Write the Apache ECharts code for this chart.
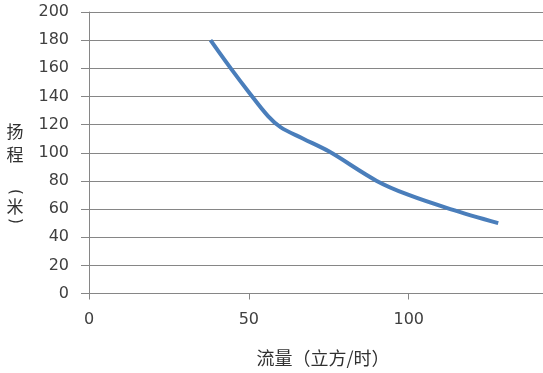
<!DOCTYPE html>
<html><head><meta charset="utf-8">
<script src="https://cdn.jsdelivr.net/npm/echarts@6/dist/echarts.min.js"></script>
<style>html,body{margin:0;padding:0;background:#fff}#c{width:543px;height:373px}</style>
</head><body><div id="c"></div>
<script>
const flowX = [38, 44, 50, 56, 60, 67, 75, 90, 100, 113, 128];
const headY = [180, 161, 143, 126, 118, 110, 101, 80, 70, 60, 50];
const xTicks = [0, 50, 100];
const yTitleChars = ['扬', '程', '(', '米', ')'];
const xTitle = '流量（立方/时）';

const chart = echarts.init(document.getElementById('c'));
const labelFont = {color: '#404040', fontSize: 16, fontFamily: 'DejaVu Sans'};
const yPos = [131.5, 154.5, 192, 206.5, 221];
const rotated = [false, false, true, false, true];
chart.setOption({
  animation: false,
  grid: {left: 89, right: 0, top: 12, bottom: 79.5, containLabel: false},
  xAxis: {
    type: 'value', min: 0, max: 142, interval: 50,
    axisLine: {show: true, lineStyle: {color: '#868686', width: 1}},
    axisTick: {show: true, length: 6, lineStyle: {color: '#868686'}},
    axisLabel: Object.assign({margin: 18, showMaxLabel: false, formatter: v => xTicks.includes(v) ? String(v) : ''}, labelFont),
    splitLine: {show: false}
  },
  yAxis: {
    type: 'value', min: 0, max: 200, interval: 20,
    axisLine: {show: true, lineStyle: {color: '#868686', width: 1}},
    axisTick: {show: true, length: 8, lineStyle: {color: '#868686'}},
    axisLabel: Object.assign({margin: 20}, labelFont),
    splitLine: {show: true, lineStyle: {color: '#868686', width: 1}}
  },
  graphic: yTitleChars.map((ch, i) => ({
    type: 'text', x: 15, y: yPos[i], rotation: rotated[i] ? -Math.PI / 2 : 0,
    style: {text: ch, fill: '#303030', align: 'center', verticalAlign: 'middle',
      font: rotated[i] ? '15px "DejaVu Sans"' : '17px "Noto Sans CJK SC"'}
  })).concat([{
    type: 'text', x: 323, y: 358,
    style: {text: xTitle, fill: '#303030', align: 'center', verticalAlign: 'middle', font: '18px "Noto Sans CJK SC"'}
  }]),
  series: [{
    type: 'line', smooth: 0.35, symbol: 'none',
    lineStyle: {color: '#4a7ebb', width: 4},
    data: flowX.map((x, i) => [x, headY[i]])
  }]
});
</script></body></html>
